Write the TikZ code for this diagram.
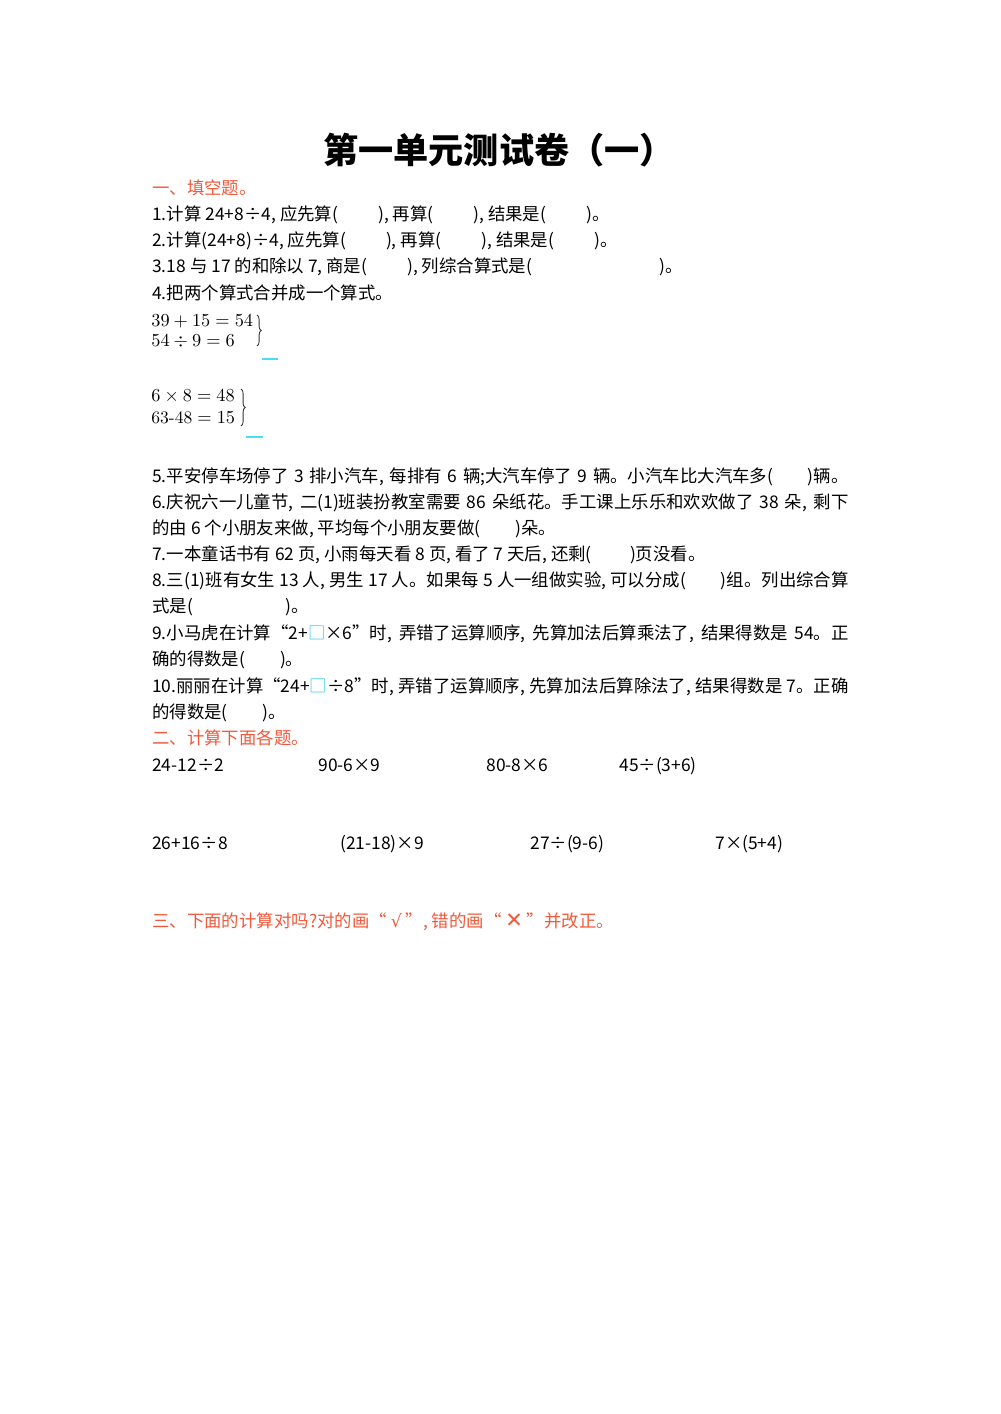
\documentclass[tikz,border=0pt]{standalone}
\usepackage{fontspec}
\usetikzlibrary{decorations.pathreplacing}
\newfontfamily\cjk{Noto Sans CJK SC}
\newfontfamily\symfont{DejaVu Sans}
\definecolor{headred}{RGB}{242,88,58}
\definecolor{blankcyan}{RGB}{70,225,240}
\definecolor{boxcyan}{RGB}{40,200,230}
\newcommand{\gap}[1]{(\hspace{#1em})}
\newcommand{\qbox}{{\color{boxcyan}□}}
\newcommand{\fullline}[1]{\makebox[14.62cm][s]{#1}}
\tikzset{
  qline/.style={anchor=west, inner sep=0pt, text height=0.8em, text depth=0.2em, yshift=-0.035cm,
    font=\cjk\fontsize{10.4}{12}\selectfont},
  head/.style={qline, text=headred},
  eqn/.style={anchor=west, inner sep=0pt, text=black, font=\fontsize{10.5}{12}\selectfont},
  answer/.style={blankcyan, line width=0.8pt},
  pairbrace/.style={decorate, decoration={brace, amplitude=2.5pt}, black!80, line width=0.5pt}
}
\begin{document}
\begin{tikzpicture}[x=0.021cm, y=-0.021cm]
    \useasboundingbox (0,0) rectangle (1000,1414);
    \node[anchor=west, inner sep=0pt, font=\cjk\bfseries\fontsize{21}{24}\selectfont] (title) at (323,150) {第一单元测试卷（一）};
    % part one
    \node[head] (h1) at (152,188) {一、填空题。};
    \node[qline] (q1) at (152,214) {1.计算 24+8÷4, 应先算\gap{2.3}, 再算\gap{2.3}, 结果是\gap{2.3}。};
    \node[qline] (q2) at (152,240) {2.计算(24+8)÷4, 应先算\gap{2.3}, 再算\gap{2.3}, 结果是\gap{2.3}。};
    \node[qline] (q3) at (152,266) {3.18 与 17 的和除以 7, 商是\gap{2.3}, 列综合算式是\gap{7.3}。};
    \node[qline] (q4) at (152,293) {4.把两个算式合并成一个算式。};
    \node[eqn] (e1) at (151,321) {$39+15=54$};
    \node[eqn] (e2) at (151,341) {$54\div9=6$};
    \coordinate (b1t) at (257,315);
    \coordinate (b1b) at (257,346);
    \draw[pairbrace] (b1t) -- (b1b);
    \coordinate (a1l) at (262,359);
    \coordinate (a1r) at (278,359);
    \draw[answer] (a1l) -- (a1r);
    \node[eqn] (e3) at (151,396) {$6\times8=48$};
    \node[eqn] (e4) at (151,418) {63-48${}=15$};
    \coordinate (b2t) at (241,389);
    \coordinate (b2b) at (241,426);
    \draw[pairbrace] (b2t) -- (b2b);
    \coordinate (a2l) at (246,437);
    \coordinate (a2r) at (263,437);
    \draw[answer] (a2l) -- (a2r);
    \node[qline] (q5) at (152,476) {\fullline{5.平安停车场停了 3 排小汽车, 每排有 6 辆;大汽车停了 9 辆。小汽车比大汽车多\gap{2}辆。}};
    \node[qline] (q6) at (152,502) {\fullline{6.庆祝六一儿童节, 二(1)班装扮教室需要 86 朵纸花。手工课上乐乐和欢欢做了 38 朵, 剩下}};
    \node[qline] (q6b) at (152,528) {的由 6 个小朋友来做, 平均每个小朋友要做\gap{2}朵。};
    \node[qline] (q7) at (152,554) {7.一本童话书有 62 页, 小雨每天看 8 页, 看了 7 天后, 还剩\gap{2.2}页没看。};
    \node[qline] (q8) at (152,580) {\fullline{8.三(1)班有女生 13 人, 男生 17 人。如果每 5 人一组做实验, 可以分成\gap{2}组。列出综合算}};
    \node[qline] (q8b) at (152,606) {式是\gap{5.3}。};
    \node[qline] (q9) at (152,633) {\fullline{9.小马虎在计算“2+\qbox×6”时, 弄错了运算顺序, 先算加法后算乘法了, 结果得数是 54。正}};
    \node[qline] (q9b) at (152,659) {确的得数是\gap{2}。};
    \node[qline] (q10) at (152,686) {\fullline{10.丽丽在计算“24+\qbox÷8”时, 弄错了运算顺序, 先算加法后算除法了, 结果得数是 7。正确}};
    \node[qline] (q10b) at (152,712) {的得数是\gap{2}。};
    % part two
    \node[head] (h2) at (152,738) {二、计算下面各题。};
    \node[qline] (c1) at (152,765) {24-12÷2};
    \node[qline] (c2) at (318,765) {90-6×9};
    \node[qline] (c3) at (486,765) {80-8×6};
    \node[qline] (c4) at (619,765) {45÷(3+6)};
    \node[qline] (c5) at (152,843) {26+16÷8};
    \node[qline] (c6) at (340,843) {(21-18)×9};
    \node[qline] (c7) at (530,843) {27÷(9-6)};
    \node[qline] (c8) at (715,843) {7×(5+4)};
    % part three
    \node[head] (h3) at (152,921) {三、下面的计算对吗?对的画“ {\symfont√} ”, 错的画“ {\symfont\fontsize{12.5}{12}\selectfont ✕} ”并改正。};
\end{tikzpicture}
\end{document}
